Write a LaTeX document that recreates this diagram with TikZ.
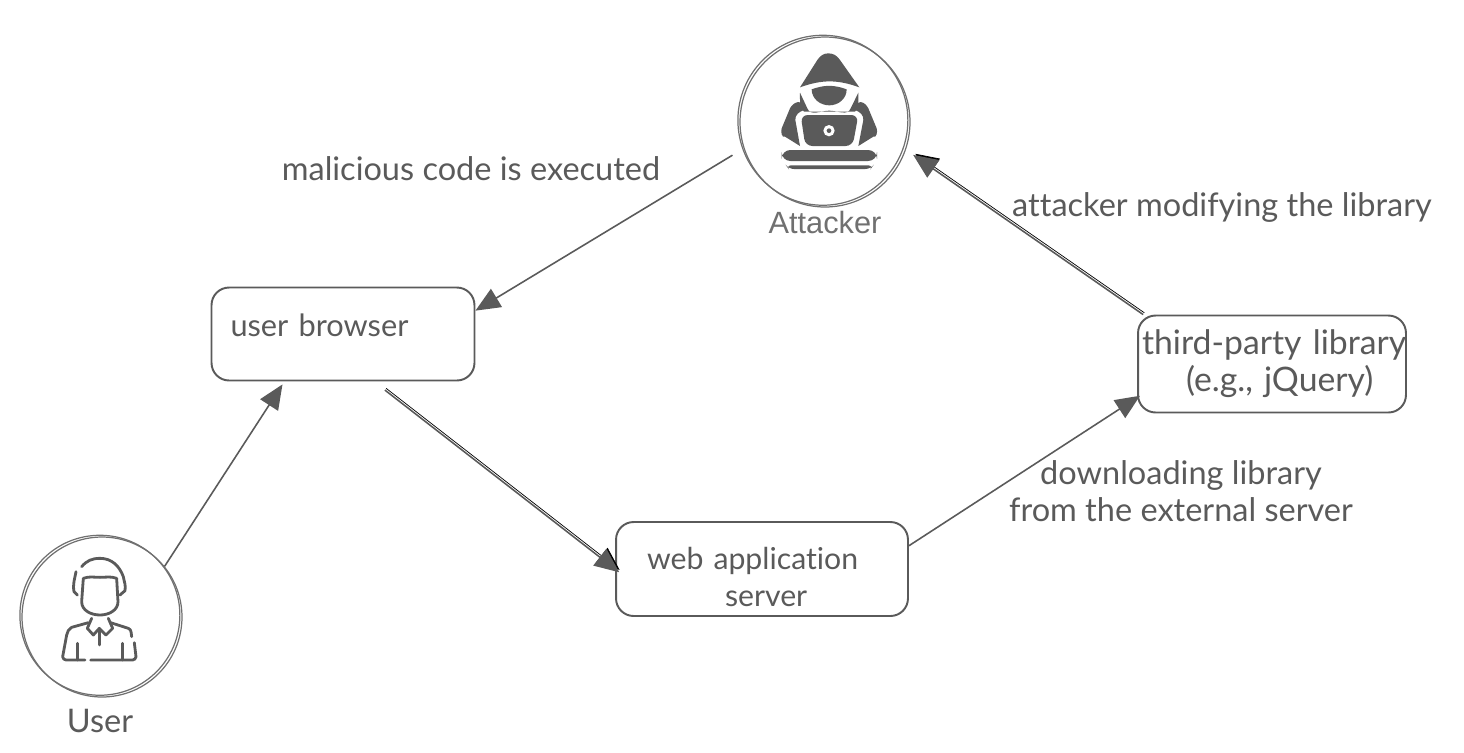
\documentclass[tikz,border=0pt]{standalone}
\usepackage{fontspec}
\setmainfont[Ligatures=NoCommon]{Lato}
\newfontfamily\labelfont{Liberation Sans}
\usetikzlibrary{arrows.meta}
\definecolor{inkgrey}{HTML}{5A5A5A}
\definecolor{ringgrey}{HTML}{707070}
\begin{document}
\begin{tikzpicture}[
    x=0.02cm,y=-0.02cm,
    sketch/.style={draw=ringgrey,line width=.7pt,preaction={draw,transform canvas={shift={(-1.2pt,1pt)}}}},
    ring/.style={circle,sketch,inner sep=0pt},
    box/.style={draw=inkgrey,line width=1.1pt,rounded corners=10pt,text=inkgrey,align=left},
    note/.style={font=\fontsize{18.5}{21}\selectfont,text=inkgrey,align=center},
    post/.style={-{Triangle[length=14pt,width=12pt]},draw=inkgrey,line width=.9pt},
    doubled/.style={preaction={draw,transform canvas={shift={(.7pt,1pt)}}}},
    icondark/.style={fill=inkgrey,draw=none},
    iconline/.style={draw=inkgrey,line width=1.6pt,line cap=round,line join=round}
    ]
\useasboundingbox (0,0) rectangle (1464,752);

\node[ring,minimum size=3.4cm] (attacker) at (825,122) {};
\node[ring,minimum size=3.2cm] (user) at (102,617) {};

\node[box,font=\fontsize{17.5}{21}\selectfont,minimum width=5.26cm,minimum height=1.86cm,text width=4.5cm] (browser) at (343,334) {\rule[-10pt]{0pt}{10pt}user browser};
\node[box,font=\fontsize{17.2}{21}\selectfont,minimum width=5.84cm,minimum height=1.88cm,text width=4.6cm] (web) at (762,569) {\rule{0pt}{22pt}web application\\\hspace*{1.56cm}server};
\node[box,font=\fontsize{19.2}{21}\selectfont,minimum width=5.36cm,minimum height=1.94cm,text width=5.2cm,inner xsep=0pt] (library) at (1272,364) {\mbox{third-party library}\\\hspace*{0.88cm}(e.g., jQuery)};

\node[font=\labelfont\fontsize{17.5}{20}\selectfont,text=ringgrey] (attackerText) at (825,222) {Attacker};
\node[note] (userText) at (100,721) {User};
\node[note] (codeText) at (471,169) {malicious code is executed};
\node[note] (modifyText) at (1222,207) {attacker modifying the library};
\node[note] (downloadText) at (1181,491) {downloading library\\from the external server};

\draw[post,shorten <=7.4pt] (attacker.198) -- (browser.10);
\draw[post,shorten >=2pt] (user.39) -- (browser.219);
\draw[post,doubled,shorten <=8pt,shorten >=-3pt] (browser.303) -- (web.west);
\draw[post,shorten >=-2pt] (web.9) -- (library.194);
\draw[post,doubled,shorten >=5pt] (library.159) -- (attacker.341);

\begin{scope}[shift={(730,0)},x=0.00667cm,y=-0.00667cm]
\fill[icondark] (295,160) to[out=0,in=125] (330,180) -- (388,262) to[out=160,in=20] (210,262) -- (262,180) to[out=55,in=180] cycle;
\fill[icondark] (245,268) to[out=20,in=160] (350,268) to[out=270,in=0] (298,316) to[out=180,in=270] cycle;
\fill[icondark] (210,278) -- (232,325) to[out=-70,in=180] (298,332) to[out=0,in=250] (362,325) -- (385,278) to[out=270,in=50] (375,335) -- (222,335) to[out=130,in=270] cycle;
\fill[icondark] (205,306) to[out=0,in=120] (222,330) to[out=200,in=95] (196,360) -- (210,438) -- (165,410) to[out=210,in=250] (155,385) -- (180,325) to[out=60,in=190] cycle;
\fill[icondark] (392,306) to[out=180,in=60] (375,330) to[out=-20,in=85] (400,360) -- (385,438) -- (430,410) to[out=-30,in=290] (440,385) -- (415,325) to[out=120,in=-10] cycle;
\fill[icondark,rounded corners=4pt] (212,345) -- (385,345) -- (368,438) -- (226,438) -- cycle;
\fill[white] (297,392) circle (17);
\fill[icondark] (297,392) circle (7);
\fill[icondark,rounded corners=5pt] (155,450) rectangle (441,483);
\fill[icondark,rounded corners=3pt] (168,496) -- (430,496) -- (422,507) -- (176,507) -- cycle;
\end{scope}

\begin{scope}[shift={(0,520)},x=0.00667cm,y=-0.00667cm]
\draw[iconline] (228,155) to[out=260,in=100] (222,215) -- (232,225);
\draw[iconline] (245,140) to[out=50,in=180] (300,115) to[out=0,in=110] (370,170) to[out=280,in=80] (375,212) -- (360,225);
\draw[iconline] (250,175) to[out=20,in=180] (300,172) to[out=0,in=160] (350,175) -- (354,245) to[out=270,in=0] (300,285) to[out=180,in=270] (245,245) -- cycle;
\draw[iconline] (275,295) -- (262,325) -- (280,345) -- (298,325) -- (318,345) -- (338,325) -- (325,295);
\draw[iconline] (298,330) -- (298,375);
\draw[iconline] (265,308) -- (215,322) to[out=200,in=70] (200,345) -- (188,410) to[out=280,in=180] (198,420) -- (255,420);
\draw[iconline] (272,420) -- (398,420) to[out=0,in=260] (408,410) -- (403,368);
\draw[iconline] (395,350) to[out=100,in=340] (385,325) -- (332,308);
\draw[iconline] (232,370) -- (232,420);
\draw[iconline] (368,370) -- (368,420);
\end{scope}

\end{tikzpicture}
\end{document}
